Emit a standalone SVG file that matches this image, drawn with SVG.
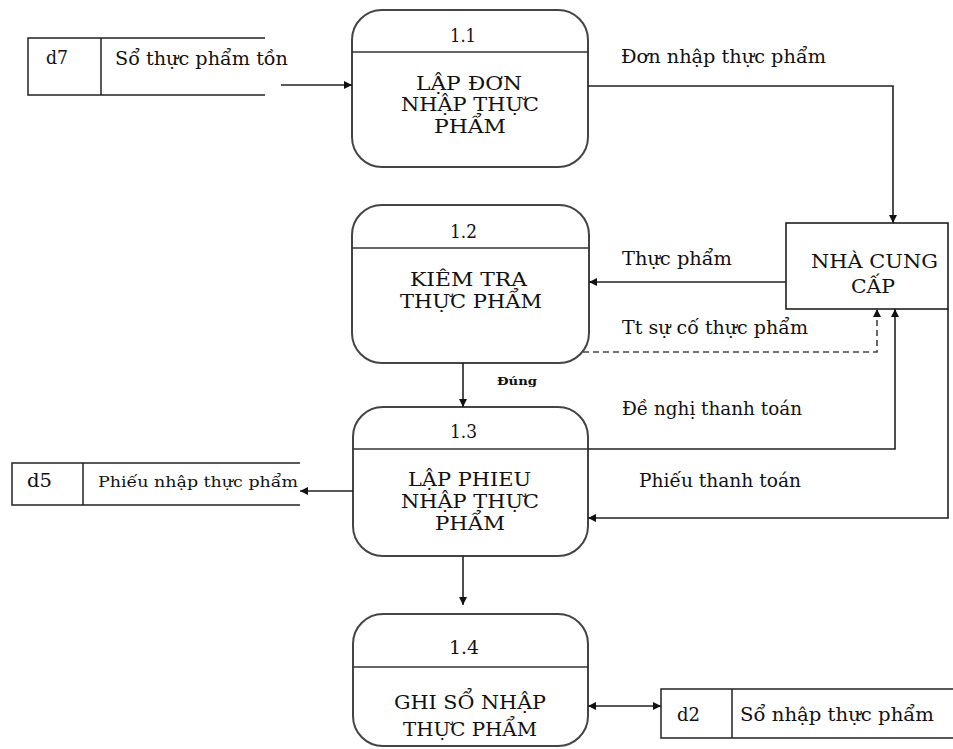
<svg xmlns="http://www.w3.org/2000/svg" width="953" height="749" viewBox="0 0 953 749">
<defs>
<marker id="arr" viewBox="0 0 10 10" refX="10" refY="5" markerWidth="9" markerHeight="8" markerUnits="userSpaceOnUse" orient="auto-start-reverse">
<path d="M0,0 L10,5 L0,10 z" fill="#111"/>
</marker>
<style>
.proc{fill:#fff;stroke:#444;stroke-width:2}
.div{stroke:#333;stroke-width:1.5}
.store{fill:none;stroke:#222;stroke-width:1.5}
.ent{fill:#fff;stroke:#111;stroke-width:1.5}
.t{font-family:"DejaVu Serif","Liberation Serif",serif;font-size:18px;fill:#111}
.s{font-family:"DejaVu Serif","Liberation Serif",serif;font-size:11px;font-weight:bold;fill:#111}
.c{fill:none;stroke:#222;stroke-width:1.6}
.d{fill:none;stroke:#444;stroke-width:1.6;stroke-dasharray:6,4}
</style>
</defs>
<rect width="953" height="749" fill="#fff"/>

<g id="d7">
<path class="store" d="M265,38 H28 V95 H265 M101,38 V95"/>
<text class="t" x="46" y="64" textLength="22" lengthAdjust="spacingAndGlyphs">d7</text>
<text class="t" x="115" y="65" textLength="173" lengthAdjust="spacingAndGlyphs">Sổ thực phẩm tồn</text>
</g>

<g id="p11">
<rect class="proc" x="352" y="10" width="236" height="157" rx="30"/>
<line class="div" x1="352" y1="52" x2="588" y2="52"/>
<text class="t" x="450" y="42" textLength="26" lengthAdjust="spacingAndGlyphs">1.1</text>
<text class="t" x="416" y="90" textLength="106" lengthAdjust="spacingAndGlyphs">LẬP ĐƠN</text>
<text class="t" x="401" y="111" textLength="138" lengthAdjust="spacingAndGlyphs">NHẬP THỰC</text>
<text class="t" x="434" y="133" textLength="72" lengthAdjust="spacingAndGlyphs">PHẨM</text>
</g>

<g id="ncc">
<rect class="ent" x="786" y="223" width="162" height="86"/>
<text class="t" x="811" y="268" textLength="127" lengthAdjust="spacingAndGlyphs">NHÀ CUNG</text>
<text class="t" x="851" y="293" textLength="44" lengthAdjust="spacingAndGlyphs">CẤP</text>
</g>

<g id="p12">
<rect class="proc" x="352" y="205" width="237" height="158" rx="30"/>
<line class="div" x1="352" y1="248" x2="589" y2="248"/>
<text class="t" x="450" y="238" textLength="27" lengthAdjust="spacingAndGlyphs">1.2</text>
<text class="t" x="410" y="286" textLength="117" lengthAdjust="spacingAndGlyphs">KIÊM TRA</text>
<text class="t" x="400" y="308" textLength="142" lengthAdjust="spacingAndGlyphs">THỰC PHẨM</text>
</g>

<g id="p13">
<rect class="proc" x="353" y="407" width="235" height="149" rx="30"/>
<line class="div" x1="353" y1="449" x2="588" y2="449"/>
<text class="t" x="450" y="438" textLength="27" lengthAdjust="spacingAndGlyphs">1.3</text>
<text class="t" x="408" y="486" textLength="123" lengthAdjust="spacingAndGlyphs">LẬP PHIEU</text>
<text class="t" x="401" y="508" textLength="138" lengthAdjust="spacingAndGlyphs">NHẬP THỰC</text>
<text class="t" x="435" y="530" textLength="70" lengthAdjust="spacingAndGlyphs">PHẨM</text>
</g>

<g id="d5">
<path class="store" d="M300,463 H12 V505 H300 M83,463 V505"/>
<text class="t" x="27" y="487" textLength="25" lengthAdjust="spacingAndGlyphs">d5</text>
<text class="t" x="98" y="487" textLength="200" lengthAdjust="spacingAndGlyphs" style="font-size:15px">Phiếu nhập thực phẩm</text>
</g>

<g id="p14">
<rect class="proc" x="353" y="614" width="235" height="132" rx="30"/>
<line class="div" x1="353" y1="667" x2="588" y2="667"/>
<text class="t" x="449" y="654" textLength="30" lengthAdjust="spacingAndGlyphs">1.4</text>
<text class="t" x="394" y="709" textLength="152" lengthAdjust="spacingAndGlyphs">GHI SỔ NHẬP</text>
<text class="t" x="403" y="736" textLength="134" lengthAdjust="spacingAndGlyphs">THỰC PHẨM</text>
</g>

<g id="d2">
<path class="store" d="M953,689 H661 V738 H953 M732,689 V738"/>
<text class="t" x="677" y="721" textLength="23" lengthAdjust="spacingAndGlyphs">d2</text>
<text class="t" x="740" y="721" textLength="194" lengthAdjust="spacingAndGlyphs">Sổ nhập thực phẩm</text>
</g>

<g id="connectors">
<path class="c" d="M281,85 H352" marker-end="url(#arr)"/>
<path class="c" d="M588,86 H893 V223" marker-end="url(#arr)"/>
<path class="c" d="M786,282 H589" marker-end="url(#arr)"/>
<path class="d" d="M583,352 H877 V309" marker-end="url(#arr)"/>
<path class="c" d="M463,363 V407" marker-end="url(#arr)"/>
<path class="c" d="M588,449 H895 V309" marker-end="url(#arr)"/>
<path class="c" d="M948,309 V518 H588" marker-end="url(#arr)"/>
<path class="c" d="M353,491 H300" marker-end="url(#arr)"/>
<path class="c" d="M463,556 V605" marker-end="url(#arr)"/>
<path class="c" d="M588,706 H661" marker-start="url(#arr)" marker-end="url(#arr)"/>
<text class="t" x="621" y="63" textLength="205" lengthAdjust="spacingAndGlyphs">Đơn nhập thực phẩm</text>
<text class="t" x="622" y="265" textLength="110" lengthAdjust="spacingAndGlyphs">Thực phẩm</text>
<text class="t" x="622" y="334" textLength="186" lengthAdjust="spacingAndGlyphs">Tt sự cố thực phẩm</text>
<text class="s" x="497" y="385" textLength="40" lengthAdjust="spacingAndGlyphs">Đúng</text>
<text class="t" x="622" y="415" textLength="180" lengthAdjust="spacingAndGlyphs">Đề nghị thanh toán</text>
<text class="t" x="639" y="487" textLength="162" lengthAdjust="spacingAndGlyphs">Phiếu thanh toán</text>
</g>
</svg>
